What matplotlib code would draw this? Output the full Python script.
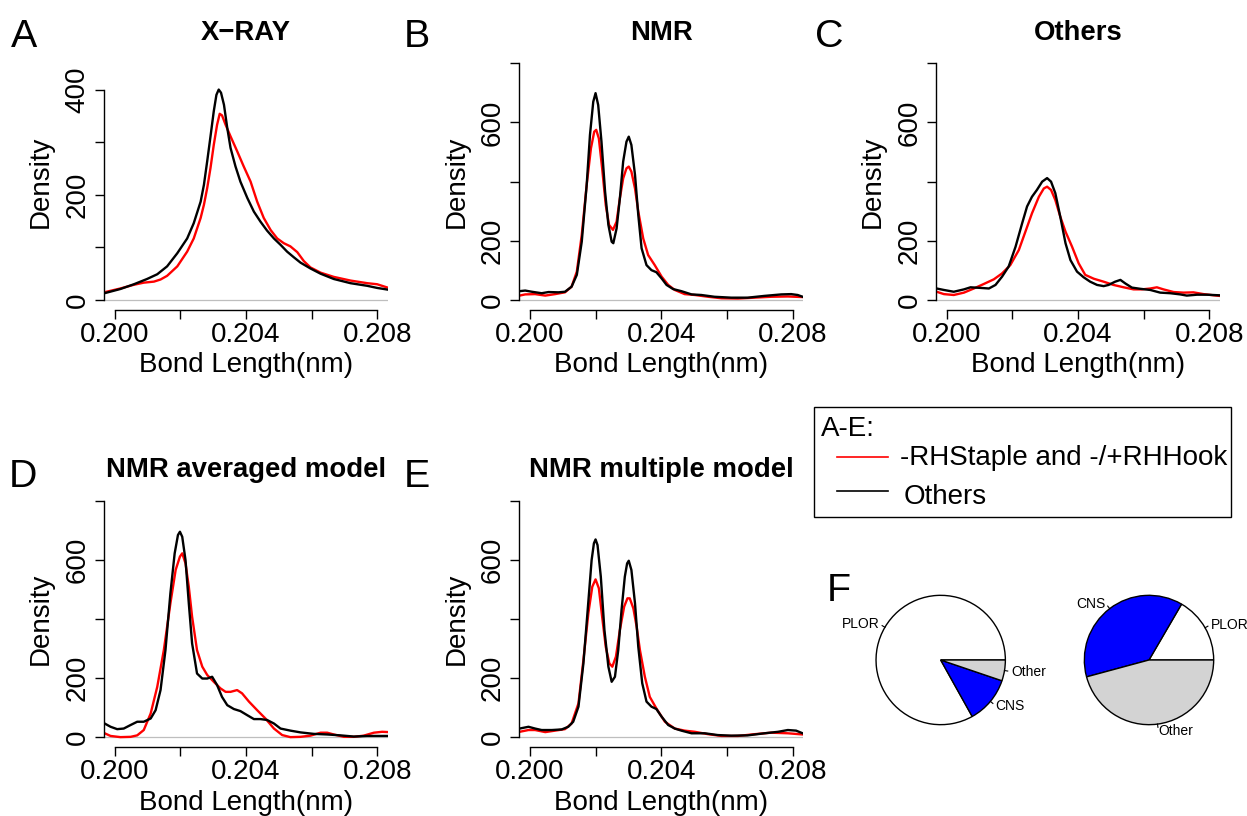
import numpy as np
import matplotlib.pyplot as plt
from matplotlib.patches import Rectangle

plt.rcParams['font.family'] = ['Liberation Sans', 'DejaVu Sans']

# density curves (x: bond length in nm, y: density)
# A: X-RAY
xray_x_oth = [0.19968, 0.20018, 0.20059, 0.20099, 0.20130, 0.20160, 0.20191, 0.20221, 0.20241, 0.20262,
              0.20272, 0.20282, 0.20292, 0.20302, 0.20310, 0.20317, 0.20324, 0.20333, 0.20343, 0.20353,
              0.20368, 0.20383, 0.20404, 0.20424, 0.20444, 0.20464, 0.20485, 0.20505, 0.20525, 0.20546,
              0.20566, 0.20596, 0.20627, 0.20667, 0.20718, 0.20769, 0.20799, 0.20829]
xray_y_oth = [12.7, 21, 30, 40, 49, 64, 89, 117, 146, 187,
              219, 264, 311, 359, 390, 400, 394, 371, 327, 289,
              254, 225, 194, 168, 149, 132, 117, 105, 92, 81,
              71, 60, 50, 40, 32, 27, 23, 20]
xray_x_rh = [0.19968, 0.20018, 0.20059, 0.20089, 0.20120, 0.20140, 0.20160, 0.20191, 0.20221, 0.20241,
             0.20262, 0.20272, 0.20282, 0.20292, 0.20302, 0.20312, 0.20320, 0.20327, 0.20338, 0.20353,
             0.20373, 0.20393, 0.20414, 0.20434, 0.20454, 0.20475, 0.20495, 0.20515, 0.20535, 0.20556,
             0.20576, 0.20596, 0.20627, 0.20667, 0.20718, 0.20769, 0.20799, 0.20829]
xray_y_rh = [14.6, 22, 29, 33, 35, 39, 46, 64, 92, 117,
             156, 181, 213, 251, 295, 333, 354, 351, 333, 311,
             283, 254, 225, 187, 156, 133, 117, 108, 102, 91,
             74, 62, 52, 44, 37, 32, 30, 24]

# B: NMR
nmr_x_oth = [0.19969, 0.19986, 0.20006, 0.20036, 0.20057, 0.20087, 0.20107, 0.20127, 0.20143, 0.20158,
             0.20173, 0.20183, 0.20193, 0.20200, 0.20208, 0.20218, 0.20229, 0.20239, 0.20249, 0.20254,
             0.20264, 0.20274, 0.20284, 0.20294, 0.20301, 0.20309, 0.20320, 0.20330, 0.20340, 0.20355,
             0.20370, 0.20385, 0.20401, 0.20416, 0.20436, 0.20461, 0.20492, 0.20522, 0.20562, 0.20613,
             0.20663, 0.20714, 0.20765, 0.20795, 0.20815, 0.20830]
nmr_y_oth = [30, 32, 28, 23, 27, 26, 28, 45, 85, 197,
             389, 558, 670, 699, 659, 535, 366, 254, 197, 192,
             242, 344, 468, 535, 552, 524, 423, 287, 175, 118,
             101, 94, 73, 51, 37, 30, 19, 17, 11, 8,
             8, 14, 19, 20, 17, 11]
nmr_x_rh = [0.19969, 0.19986, 0.20016, 0.20047, 0.20077, 0.20107, 0.20127, 0.20143, 0.20158, 0.20173,
            0.20186, 0.20196, 0.20202, 0.20210, 0.20220, 0.20231, 0.20241, 0.20253, 0.20264, 0.20274,
            0.20284, 0.20294, 0.20301, 0.20309, 0.20320, 0.20330, 0.20345, 0.20360, 0.20380, 0.20401,
            0.20421, 0.20441, 0.20471, 0.20502, 0.20542, 0.20583, 0.20633, 0.20684, 0.20734, 0.20785,
            0.20830]
nmr_y_rh = [15, 19, 20, 15, 20, 26, 45, 96, 220, 389,
            513, 569, 575, 546, 445, 321, 254, 237, 265, 344,
            411, 445, 451, 434, 377, 299, 208, 152, 118, 79,
            51, 34, 20, 17, 11, 6, 5, 8, 11, 12,
            10]

# C: Others
oth_x_oth = [0.19970, 0.19992, 0.20022, 0.20053, 0.20073, 0.20103, 0.20129, 0.20149, 0.20169, 0.20189,
             0.20210, 0.20230, 0.20245, 0.20260, 0.20275, 0.20291, 0.20306, 0.20318, 0.20331, 0.20346,
             0.20362, 0.20377, 0.20397, 0.20417, 0.20437, 0.20458, 0.20478, 0.20493, 0.20513, 0.20529,
             0.20544, 0.20564, 0.20589, 0.20620, 0.20650, 0.20681, 0.20711, 0.20731, 0.20762, 0.20792,
             0.20830]
oth_y_oth = [39, 34, 28, 36, 43, 41, 39, 51, 79, 113,
             180, 259, 316, 349, 372, 400, 412, 400, 361, 282,
             192, 135, 96, 77, 62, 51, 47, 51, 62, 68,
             56, 42, 38, 34, 25, 23, 19, 15, 18, 18,
             16]
oth_x_rh = [0.19970, 0.19992, 0.20022, 0.20053, 0.20083, 0.20113, 0.20144, 0.20169, 0.20194, 0.20220,
            0.20240, 0.20260, 0.20281, 0.20296, 0.20306, 0.20318, 0.20331, 0.20346, 0.20362, 0.20382,
            0.20402, 0.20422, 0.20448, 0.20478, 0.20508, 0.20539, 0.20569, 0.20594, 0.20620, 0.20640,
            0.20660, 0.20691, 0.20721, 0.20751, 0.20782, 0.20812, 0.20830]
oth_y_rh = [28, 20, 17, 25, 39, 54, 70, 90, 118, 169,
            231, 293, 349, 377, 383, 372, 338, 282, 231, 180,
            124, 85, 72, 62, 51, 43, 36, 36, 39, 43,
            36, 27, 25, 26, 20, 16, 14]

# D: NMR averaged model
avg_x_oth = [0.19970, 0.19988, 0.20008, 0.20028, 0.20049, 0.20069, 0.20089, 0.20110, 0.20125, 0.20140,
             0.20155, 0.20170, 0.20183, 0.20193, 0.20199, 0.20206, 0.20216, 0.20226, 0.20236, 0.20251,
             0.20267, 0.20282, 0.20297, 0.20312, 0.20327, 0.20343, 0.20363, 0.20383, 0.20404, 0.20424,
             0.20444, 0.20464, 0.20485, 0.20505, 0.20535, 0.20566, 0.20606, 0.20647, 0.20687, 0.20728,
             0.20769, 0.20829]
avg_y_oth = [47, 36, 28, 30, 42, 53, 53, 64, 92, 160,
             295, 487, 622, 684, 695, 678, 599, 453, 318, 216,
             199, 199, 205, 177, 137, 109, 96, 89, 75, 62,
             62, 59, 47, 30, 23, 17, 12, 10, 7, 3,
             5, 5]
avg_x_rh = [0.19970, 0.19988, 0.20018, 0.20049, 0.20069, 0.20089, 0.20110, 0.20130, 0.20150, 0.20170,
            0.20186, 0.20199, 0.20206, 0.20216, 0.20226, 0.20236, 0.20251, 0.20267, 0.20282, 0.20302,
            0.20322, 0.20338, 0.20353, 0.20373, 0.20388, 0.20409, 0.20434, 0.20459, 0.20485, 0.20510,
            0.20535, 0.20566, 0.20596, 0.20627, 0.20647, 0.20667, 0.20698, 0.20728, 0.20758, 0.20789,
            0.20814, 0.20834]
avg_y_rh = [14, 5, 1, 2, 7, 25, 81, 171, 295, 453,
            566, 611, 622, 588, 509, 408, 295, 239, 211, 188,
            166, 154, 154, 160, 149, 121, 92, 64, 30, 8,
            1, 2, 6, 16, 16, 10, 2, 2, 6, 16,
            19, 18]

# E: NMR multiple model
mul_x_oth = [0.19969, 0.19996, 0.20016, 0.20036, 0.20067, 0.20097, 0.20117, 0.20132, 0.20148, 0.20163,
             0.20176, 0.20188, 0.20195, 0.20200, 0.20206, 0.20216, 0.20227, 0.20239, 0.20249, 0.20259,
             0.20269, 0.20279, 0.20289, 0.20296, 0.20301, 0.20309, 0.20320, 0.20330, 0.20342, 0.20355,
             0.20370, 0.20385, 0.20401, 0.20421, 0.20441, 0.20461, 0.20492, 0.20532, 0.20572, 0.20613,
             0.20663, 0.20714, 0.20755, 0.20785, 0.20810, 0.20830]
mul_y_oth = [30, 36, 30, 25, 25, 27, 36, 53, 104, 250,
             430, 599, 656, 669, 650, 543, 363, 239, 188, 205,
             295, 430, 543, 588, 597, 566, 453, 306, 183, 121,
             104, 96, 70, 42, 30, 23, 14, 14, 8, 6,
             7, 14, 19, 25, 23, 14]
mul_x_rh = [0.19969, 0.19996, 0.20016, 0.20047, 0.20077, 0.20107, 0.20127, 0.20148, 0.20163, 0.20178,
            0.20190, 0.20200, 0.20210, 0.20220, 0.20231, 0.20242, 0.20251, 0.20262, 0.20274, 0.20287,
            0.20297, 0.20304, 0.20315, 0.20325, 0.20335, 0.20350, 0.20365, 0.20385, 0.20411, 0.20441,
            0.20471, 0.20502, 0.20542, 0.20583, 0.20633, 0.20684, 0.20734, 0.20785, 0.20830]
mul_y_rh = [19, 25, 25, 18, 23, 28, 47, 115, 261, 419,
            509, 534, 504, 408, 306, 250, 239, 273, 363, 442,
            470, 470, 436, 374, 295, 205, 137, 98, 53, 30,
            23, 19, 11, 5, 5, 11, 16, 14, 10]

# F: refinement program shares
pie_labels = ["PLOR", "CNS", "Other"]
pie_left = [0.831, 0.117, 0.052]
pie_right = [0.166, 0.376, 0.458]
pie_colors = ["white", "blue", "#D3D3D3"]

x_ticks = [0.200, 0.202, 0.204, 0.206, 0.208]
x_ticklabels = ["0.200", "", "0.204", "", "0.208"]

W, H = 1247, 816
fig = plt.figure(figsize=(W / 100, H / 100), dpi=100)


def px_box(left, top, w, h):
    return [left / W, 1 - (top + h) / H, w / W, h / H]


panels = [
    ("X\u2212RAY", (104, 53.8), 450, [0, 100, 200, 300, 400], ["0", "", "200", "", "400"],
     xray_x_rh, xray_y_rh, xray_x_oth, xray_y_oth),
    ("NMR", (519.3, 53.8), 800, [0, 200, 400, 600, 800], ["0", "200", "", "600", ""],
     nmr_x_rh, nmr_y_rh, nmr_x_oth, nmr_y_oth),
    ("Others", (936, 53.8), 800, [0, 200, 400, 600, 800], ["0", "200", "", "600", ""],
     oth_x_rh, oth_y_rh, oth_x_oth, oth_y_oth),
    ("NMR averaged model", (104, 491.2), 800, [0, 200, 400, 600, 800], ["0", "200", "", "600", ""],
     avg_x_rh, avg_y_rh, avg_x_oth, avg_y_oth),
    ("NMR multiple model", (519.3, 491.2), 800, [0, 200, 400, 600, 800], ["0", "200", "", "600", ""],
     mul_x_rh, mul_y_rh, mul_x_oth, mul_y_oth),
]

for title, (left, top), ymax, yt, ytl, xr, yr, xb, yb in panels:
    ax = fig.add_axes(px_box(left, top, 284, 255.7))
    ax.axhline(0, color="#BEBEBE", lw=0.9, zorder=1)
    ax.plot(xr, yr, color="red", lw=1.7, zorder=2)
    ax.plot(xb, yb, color="black", lw=1.7, zorder=3)
    ax.set_xlim(0.19968, 0.20832)
    ax.set_ylim(-0.04 * ymax, 1.04 * ymax)
    for s in ["top", "right"]:
        ax.spines[s].set_visible(False)
    ax.spines["left"].set_bounds(yt[0], yt[-1])
    ax.spines["bottom"].set_bounds(x_ticks[0], x_ticks[-1])
    for s in ["left", "bottom"]:
        ax.spines[s].set_linewidth(1.0)
    ax.set_xticks(x_ticks)
    ax.set_xticklabels(x_ticklabels)
    ax.set_yticks(yt)
    ax.set_yticklabels(ytl, rotation=90, va="center")
    ax.tick_params(axis="both", direction="out", length=6.5, width=1.0, labelsize=20)
    ax.tick_params(axis="x", pad=2.5)
    ax.tick_params(axis="y", pad=3)
    ax.set_xlabel("Bond Length(nm)", fontsize=20, va="top")
    ax.xaxis.set_label_coords(0.5, -0.168)
    ax.set_ylabel("Density", fontsize=20)
    ax.yaxis.set_label_coords(-0.176, 0.5)
    ax.set_title(title, fontsize=19.8, fontweight="bold", pad=10)

# pies
for cx, vals in [(940.7, pie_left), (1149, pie_right)]:
    pax = fig.add_axes(px_box(cx - 97, 660 - 97, 194, 194))
    wedges, texts = pax.pie(vals, labels=pie_labels, colors=pie_colors, startangle=0,
                            counterclock=True, labeldistance=1.1,
                            wedgeprops=dict(edgecolor="black", linewidth=1.0),
                            textprops=dict(fontsize=10))
    for w in wedges:
        mid = np.deg2rad((w.theta1 + w.theta2) / 2)
        pax.plot([np.cos(mid), 1.05 * np.cos(mid)], [np.sin(mid), 1.05 * np.sin(mid)],
                 color="black", lw=0.8)
    pax.set_xlim(-1.5, 1.5)
    pax.set_ylim(-1.5, 1.5)
    pax.set_aspect("equal")
    pax.axis("off")

# overlay in pixel coordinates for panel letters and legend
ov = fig.add_axes([0, 0, 1, 1], facecolor="none")
ov.set_xlim(0, W)
ov.set_ylim(H, 0)
ov.axis("off")
for letter, x, y in [("A", 11, 46.7), ("B", 404, 46.7), ("C", 815, 46.7),
                     ("D", 8.5, 486.7), ("E", 404, 486.7), ("F", 827, 601)]:
    ov.text(x, y, letter, fontsize=28.4, ha="left", va="baseline")

ov.add_patch(Rectangle((814, 406.7), 417, 110.6, fill=False, lw=1.0, edgecolor="black"))
ov.text(820.5, 436, "A-E:", fontsize=20, ha="left", va="baseline")
ov.plot([836.7, 888.3], [457.3, 457.3], color="red", lw=1.2)
ov.text(900, 465, "-RHStaple and -/+RHHook", fontsize=20, ha="left", va="baseline")
ov.plot([836.7, 888.3], [490.7, 490.7], color="black", lw=1.2)
ov.text(904, 503.5, "Others", fontsize=20, ha="left", va="baseline")

fig.savefig("out.png", dpi=100)
